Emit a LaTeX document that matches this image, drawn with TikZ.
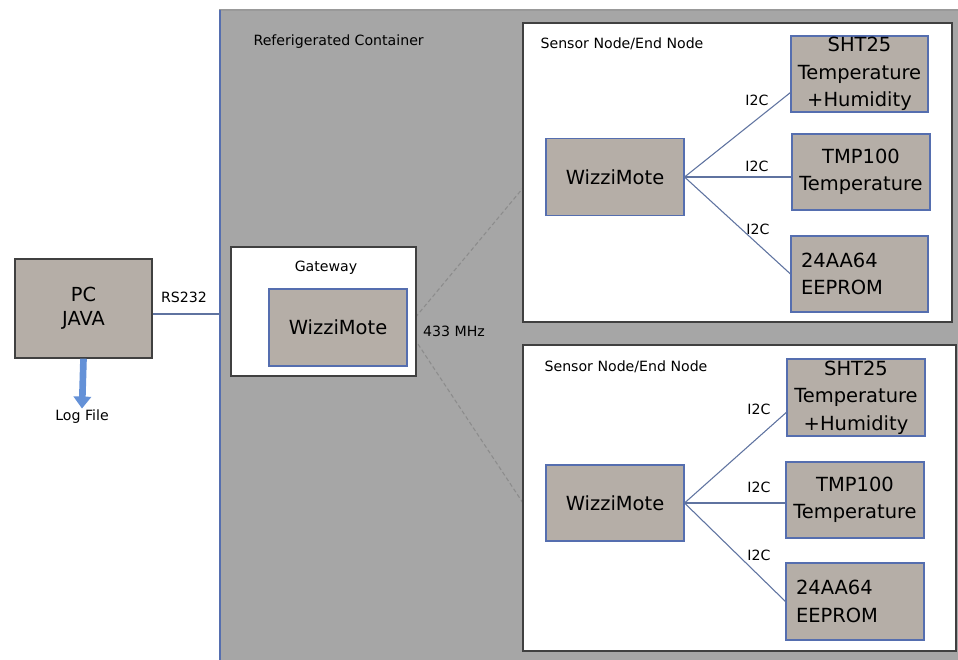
\documentclass[tikz,border=0pt]{standalone}
\usepackage{fontspec}
\setmainfont{DejaVu Sans}
\usepackage{tikz}
\usetikzlibrary{arrows.meta,positioning}
\definecolor{contgray}{RGB}{166,166,166}
\definecolor{motefill}{RGB}{181,174,167}
\definecolor{edgeblue}{RGB}{85,110,175}
\definecolor{linkblue}{RGB}{95,115,160}
\definecolor{logblue}{RGB}{100,145,215}
\newcommand\px{0.75pt}
\tikzset{
  mote/.style={
    shape = rectangle,
    draw = edgeblue,
    fill = motefill,
    line width = 0.8pt,
    inner sep = 0pt,
    align = center,
    font = \fontsize{14.6}{20.5}\selectfont
  },
  frame/.style={
    shape = rectangle,
    draw = black!75,
    fill = white,
    line width = 1.2pt,
    inner sep = 0pt
  },
  tag/.style={
    font = \fontsize{10.6}{12}\selectfont,
    inner sep = 1pt
  },
  boxsize/.style 2 args={
    minimum width = #1*\px,
    minimum height = #2*\px
  },
  bus/.style={
    draw = linkblue,
    line width = 0.8pt
  },
  radio/.style={
    draw = black!45,
    dash pattern = on 3pt off 2pt,
    line width = 0.8pt
  }
}

\begin{document}
\begin{tikzpicture}[x=0.75pt, y=-0.75pt]
  \useasboundingbox (0,0) rectangle (958,660);

  % container
  \fill[contgray, draw=black!40, line width=1pt] (220,10) rectangle (960,662);
  \draw[edgeblue, line width=0.8pt] (220,10) -- (220,660);
  \node[tag, anchor=west] (cont) at (252,42) {Referigerated Container};

  % pc side
  \node[mote, draw=black!75, line width=1pt, boxsize={137}{99}, font=\fontsize{14.5}{18}\selectfont] (pc) at (83.5,308.5) {PC\\JAVA};
  \node[tag] (log) at (82,417) {Log File};
  \draw[logblue, line width=5pt, -{Triangle[length=9pt, width=13pt]}] (pc.south) -- (log.north);
  \coordinate (rsin) at (220,314);
  \draw[bus] (pc.east |- rsin) -- (rsin);
  \node[tag] (rs) at (184,297) {RS232};

  % radio links
  \coordinate (air1) at (523,188);
  \coordinate (air2) at (523,503);
  \draw[radio] (407,327.5) -- (air1);
  \draw[radio] (407,327.5) -- (air2);

  % gateway
  \node[frame, boxsize={185}{129}] (gw) at (323.5,311.5) {};
  \node[tag] (gwtag) at (326,268) {Gateway};
  \node[mote, boxsize={138}{77}, font=\fontsize{14.6}{17}\selectfont] (gwmote) at (338,327.5) {WizziMote};
  \node[tag] (mhz) at (454,331) {433 MHz};

  % sensor node 1
  \node[frame, boxsize={429}{299}] (sn1) at (737.5,172.5) {};
  \node[tag, anchor=west] (sn1tag) at (539,44) {Sensor Node/End Node};
  \node[mote, boxsize={138}{77}, font=\fontsize{14.6}{17}\selectfont] (m1) at (615,177) {WizziMote};
  \node[mote, boxsize={137}{76}] (sht1) at (859.5,74) {SHT25\\Temperature\\+Humidity};
  \node[mote, boxsize={138}{76}] (tmp1) at (861,172) {TMP100\\Temperature};
  \node[mote, boxsize={137}{76}, align=left, text width=117*\px] (ee1) at (859.5,274) {24AA64\\EEPROM};
  \draw[bus] (m1.east) -- (sht1.195);
  \draw[bus] (m1.east) -- (m1.east -| tmp1.west);
  \draw[bus] (m1.east) -- (ee1.west);
  \node[tag] (i2ca) at (757,100) {I2C};
  \node[tag] (i2cb) at (757,166) {I2C};
  \node[tag] (i2cc) at (758,229) {I2C};

  % sensor node 2
  \node[frame, boxsize={433}{306}] (sn2) at (739.5,498) {};
  \node[tag, anchor=west] (sn2tag) at (543,367) {Sensor Node/End Node};
  \node[mote, boxsize={138}{76}, font=\fontsize{14.6}{17}\selectfont] (m2) at (615,503) {WizziMote};
  \node[mote, boxsize={138}{77}] (sht2) at (856,397.5) {SHT25\\Temperature\\+Humidity};
  \node[mote, boxsize={138}{76}] (tmp2) at (855,500) {TMP100\\Temperature};
  \node[mote, boxsize={138}{77}, align=left, text width=118*\px] (ee2) at (855,601.5) {24AA64\\EEPROM};
  \draw[bus] (m2.east) -- (sht2.192);
  \draw[bus] (m2.east) -- (m2.east -| tmp2.west);
  \draw[bus] (m2.east) -- (ee2.west);
  \node[tag] (i2cd) at (759,409) {I2C};
  \node[tag] (i2ce) at (759,487) {I2C};
  \node[tag] (i2cf) at (759,555) {I2C};
\end{tikzpicture}
\end{document}
